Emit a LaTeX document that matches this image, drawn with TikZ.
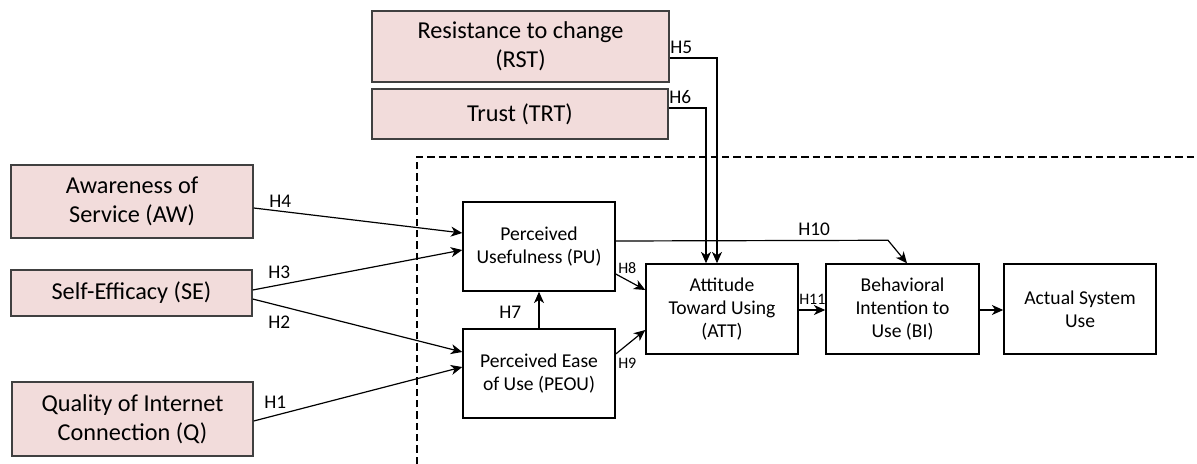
\documentclass[tikz,border=0pt]{standalone}
\usepackage{fontspec}
\setmainfont{Carlito}
\usetikzlibrary{arrows.meta,calc}
\definecolor{pinkfill}{HTML}{F2DCDB}
\definecolor{pinkline}{HTML}{404040}
\begin{document}
\begin{tikzpicture}[x=0.75pt,y=-0.75pt,
  outer/.style={draw=pinkline,fill=pinkfill,line width=1.1pt,align=center,inner sep=0pt,
    font=\fontsize{18.2}{21.5}\selectfont},
  inner/.style={draw=black,line width=1.1pt,align=center,inner sep=0pt,
    minimum width=114pt,minimum height=66.75pt,font=\fontsize{14.7}{17.4}\selectfont},
  link/.style={line width=0.9pt,-{Stealth[length=8.5pt,width=7.5pt,inset=2.5pt]}},
  hlab/.style={font=\fontsize{14.5}{17}\selectfont,inner sep=0pt},
  slab/.style={font=\fontsize{12}{14}\selectfont,inner sep=0pt}]
\useasboundingbox (0,0) rectangle (1197,464);

% model boundary
\draw[line width=1.1pt,dash pattern=on 5.5pt off 3pt] (417,464) -- (417,157) -- (1197,157);

% external factors
\node[outer,minimum width=222.75pt,minimum height=53.25pt] (RST) at (520.5,46.5) {Resistance to change\\(RST)};
\node[outer,minimum width=222pt,minimum height=37.5pt] (TRT) at (520,114) {Trust (TRT)};
\node[outer,minimum width=181.5pt,minimum height=54.75pt] (AW) at (132,201.5) {Awareness of\\Service (AW)};
\node[outer,minimum width=180.75pt,minimum height=34.5pt] (SE) at (131.5,293) {Self-Efficacy (SE)};
\node[outer,minimum width=180.75pt,minimum height=55.5pt] (Q) at (132.5,419) {Quality of Internet\\Connection (Q)};

% TAM core
\node[inner] (PU) at (539,246.5) {Perceived\\Usefulness (PU)};
\node[inner] (PEOU) at (539,373.5) {Perceived Ease\\of Use (PEOU)};
\node[inner,minimum height=67.5pt] (ATT) at (722,309) {Attitude\\Toward Using\\(ATT)};
\node[inner,minimum height=67.5pt,minimum width=114.75pt] (BI) at (902.5,309) {Behavioral\\Intention to\\Use (BI)};
\node[inner,minimum height=67.5pt] (ASU) at (1080,309) {Actual System\\Use};

% external paths
\draw[link] ($(AW.east)+(0,6.5)$) -- ($(PU.west)+(0,-13.5)$);
\draw[link] ($(SE.east)+(0,-3)$) -- ($(PU.west)+(0,3.5)$);
\draw[link] ($(SE.east)+(0,6)$) -- ($(PEOU.west)+(0,-21.5)$);
\draw[link] ($(Q.east)+(0,2)$) -- ($(PEOU.west)+(0,-6.5)$);
\draw[link] ($(RST.east)+(0,11.5)$) -| ($(ATT.north)+(-5,0)$);
\draw[link] ($(TRT.east)+(0,-6)$) -| ($(ATT.north)+(-16,0)$);

% internal paths
\draw[link] (PEOU.north) -- (PU.south);
\draw[link] ($(PU.east)+(0,27.5)$) -- ($(ATT.west)+(0,-19)$);
\draw[link] ($(PEOU.east)+(0,-19.5)$) -- ($(ATT.west)+(0,21)$);
\draw[link] ($(PU.east)+(0,-5.5)$) -- ($(BI.north)+(-14.5,-23)$) -- ($(BI.north)+(4.5,0)$);
\draw[link] ($(ATT.east)+(0,1)$) -- ($(BI.west)+(0,1)$);
\draw[link] ($(BI.east)+(0,1)$) -- ($(ASU.west)+(0,1)$);

% hypothesis labels
\node[hlab,anchor=west] (h5) at (670,47) {H5};
\node[hlab,anchor=west] (h6) at (669,97) {H6};
\node[hlab,anchor=west] (h4) at (269,201) {H4};
\node[hlab,anchor=west] (h3) at (268,272) {H3};
\node[hlab,anchor=west] (h2) at (268,322) {H2};
\node[hlab,anchor=west] (h1) at (264,402) {H1};
\node[hlab,anchor=west] (h7) at (499,312) {H7};
\node[hlab,anchor=west] (h10) at (798,229) {H10};
\node[slab,anchor=west] (h8) at (618,268) {H8};
\node[slab,anchor=west] (h9) at (618,363) {H9};
\node[slab,anchor=west] (h11) at (799,299) {H11};
\end{tikzpicture}
\end{document}
